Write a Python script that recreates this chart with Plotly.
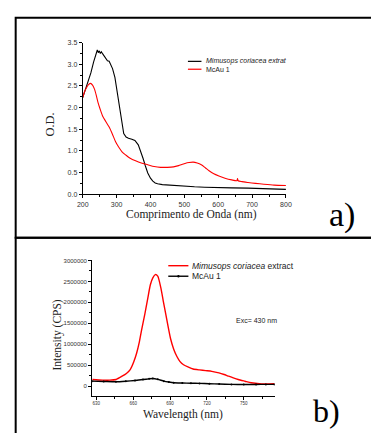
import plotly.graph_objects as go

# Panel a) UV-Vis absorbance
uv_wl_extract = [200, 208, 216, 224, 232, 238, 243, 246, 249, 252, 255, 259, 263, 268, 273, 278, 283, 288, 295, 302, 311, 321, 328, 335, 345, 354, 364, 371, 378, 385, 392, 400, 407, 414, 421, 435, 450, 470, 497, 530, 560, 592, 640, 688, 740, 800]
uv_od_extract = [2.23, 2.42, 2.58, 2.8, 3.05, 3.2, 3.33, 3.27, 3.31, 3.25, 3.29, 3.24, 3.2, 3.15, 3.08, 3.07, 3.0, 2.9, 2.7, 2.35, 1.82, 1.4, 1.32, 1.29, 1.27, 1.24, 1.14, 1.0, 0.83, 0.65, 0.49, 0.37, 0.3, 0.26, 0.24, 0.22, 0.21, 0.2, 0.18, 0.17, 0.16, 0.15, 0.145, 0.14, 0.13, 0.11]

uv_wl_mcau = [200, 205, 211, 217, 223, 229, 235, 240, 245, 252, 259, 268, 278, 288, 297, 306, 316, 328, 340, 356, 373, 392, 411, 430, 450, 468, 483, 494, 502, 514, 526, 538, 550, 562, 573, 587, 602, 620, 640, 655, 657, 659, 670, 688, 710, 735, 765, 800]
uv_od_mcau = [2.23, 2.36, 2.46, 2.53, 2.56, 2.52, 2.42, 2.28, 2.12, 1.95, 1.8, 1.68, 1.55, 1.38, 1.21, 1.09, 0.98, 0.9, 0.83, 0.77, 0.72, 0.68, 0.64, 0.62, 0.62, 0.63, 0.66, 0.69, 0.71, 0.73, 0.74, 0.72, 0.68, 0.61, 0.54, 0.47, 0.42, 0.37, 0.33, 0.31, 0.36, 0.31, 0.29, 0.27, 0.25, 0.23, 0.21, 0.2]

# Panel b) fluorescence emission
fl_wl_extract = [626.8, 635, 641, 646, 651, 654.5, 657.6, 660.5, 662.8, 665, 666.8, 669.5, 672, 674, 676, 678, 680, 682.5, 684.5, 686.5, 690.4, 693, 695.6, 698, 701, 705, 708.8, 714, 719, 724, 729.8, 734, 737.7, 741.5, 745.5, 751, 756, 761, 766.5, 770.5, 775]
fl_int_extract = [156000, 141000, 140000, 156000, 235000, 300000, 392000, 580000, 783000, 1050000, 1332000, 1720000, 2115000, 2420000, 2585000, 2663000, 2624000, 2350000, 2030000, 1723000, 1136000, 880000, 705000, 590000, 509000, 450000, 407000, 385000, 368000, 350000, 313000, 275000, 235000, 195000, 157000, 115000, 78000, 60000, 47000, 50000, 55000]

fl_wl_mcau = [626.8, 636, 646, 654, 661.5, 668, 673, 676, 680, 685, 689, 693, 700, 707, 714, 722, 730, 740, 750, 760, 768, 775]
fl_int_mcau = [117000, 110000, 102000, 115000, 133000, 155000, 172000, 180000, 160000, 117000, 95000, 78000, 72000, 68000, 63000, 55000, 48000, 39000, 38000, 38000, 39000, 39000]

W, H = 371, 433
def px(x):
    return x / W
def py(y):
    return 1 - y / H

fig = go.Figure()

fig.add_trace(go.Scatter(x=uv_wl_extract, y=uv_od_extract, mode="lines",
                         line=dict(color="black", width=1.1), xaxis="x", yaxis="y",
                         showlegend=False))
fig.add_trace(go.Scatter(x=uv_wl_mcau, y=uv_od_mcau, mode="lines",
                         line=dict(color="#ff0000", width=1.1, shape="spline", smoothing=0.6),
                         xaxis="x", yaxis="y", showlegend=False))
fig.add_trace(go.Scatter(x=fl_wl_extract, y=fl_int_extract, mode="lines",
                         line=dict(color="#ff0000", width=1.4, shape="spline", smoothing=0.6),
                         xaxis="x2", yaxis="y2", showlegend=False))
fig.add_trace(go.Scatter(x=fl_wl_mcau, y=fl_int_mcau, mode="lines+markers",
                         line=dict(color="black", width=1.4, shape="spline", smoothing=0.6),
                         marker=dict(color="black", size=2),
                         xaxis="x2", yaxis="y2", showlegend=False))

def tf(size):
    return dict(family="Arial, Liberation Sans, sans-serif", size=size, color="#333333")

axis_common = dict(showgrid=False, zeroline=False, showline=True, linecolor="black",
                   linewidth=1, ticks="outside", ticklen=3, tickwidth=1, tickcolor="black",
                   mirror=False)

fig.update_layout(
    width=W, height=H,
    margin=dict(l=0, r=0, t=0, b=0),
    paper_bgcolor="white", plot_bgcolor="white",
    xaxis=dict(domain=[px(79.3), px(289.3)], range=[200, 800], anchor="y",
               tickvals=[200, 300, 400, 500, 600, 700, 800], tickfont=tf(7),
               minor=dict(dtick=50, tick0=200, ticks="outside", ticklen=2, tickcolor="black"),
               **axis_common),
    yaxis=dict(domain=[py(193.3), py(39.3)], range=[0, 3.5], anchor="x",
               dtick=0.5, tickformat=".1f", tickfont=tf(7),
               minor=dict(dtick=0.25, tick0=0, ticks="outside", ticklen=2, tickcolor="black"),
               **axis_common),
    xaxis2=dict(domain=[px(89), px(277.7)], range=[626.6, 775.2], anchor="y2",
                tickvals=[630, 660, 690, 720, 750], tickfont=tf(4.5),
                minor=dict(dtick=15, tick0=630, ticks="outside", ticklen=2, tickcolor="black"),
                **axis_common),
    yaxis2=dict(domain=[py(398.3), py(260.7)], range=[-235000, 3000000], anchor="x2",
                tickvals=[0, 500000, 1000000, 1500000, 2000000, 2500000, 3000000],
                tickformat="d", tickfont=tf(6),
                minor=dict(dtick=250000, tick0=0, ticks="outside", ticklen=2, tickcolor="black"),
                **axis_common),
)

serif = "Liberation Serif, Times New Roman, serif"
sans = "Liberation Sans, Arial, sans-serif"

shapes = [
    # panel frames
    dict(type="rect", xref="paper", yref="paper", x0=px(10), x1=px(390), y0=py(237.7), y1=py(14),
         line=dict(color="black", width=2)),
    dict(type="rect", xref="paper", yref="paper", x0=px(10), x1=px(390), y0=py(450), y1=py(237.7),
         line=dict(color="black", width=2)),
    # legend samples panel a
    dict(type="line", xref="paper", yref="paper", x0=px(188), x1=px(202), y0=py(58.3), y1=py(58.3),
         line=dict(color="black", width=1.2)),
    dict(type="line", xref="paper", yref="paper", x0=px(188), x1=px(202), y0=py(66.3), y1=py(66.3),
         line=dict(color="#ff0000", width=1.2)),
    # legend samples panel b
    dict(type="line", xref="paper", yref="paper", x0=px(167.7), x1=px(188.5), y0=py(266), y1=py(266),
         line=dict(color="#ff0000", width=1.4)),
    dict(type="line", xref="paper", yref="paper", x0=px(167.7), x1=px(188.5), y0=py(276.7), y1=py(276.7),
         line=dict(color="black", width=1.4)),
    dict(type="circle", xref="paper", yref="paper", x0=px(177), x1=px(179.4), y0=py(277.9), y1=py(275.5),
         fillcolor="black", line=dict(color="black", width=0)),
]
fig.update_layout(shapes=shapes)

annotations = [
    dict(text="Comprimento de Onda (nm)", x=px(192), y=py(213.5), font=dict(family=serif, size=11.5, color="#222"),
         borderpad=0),
    dict(text="O.D.", x=px(45), y=py(123), textangle=-90, font=dict(family=serif, size=12.5, color="#222")),
    dict(text="a)", x=px(347), y=py(214), font=dict(family=serif, size=34, color="black")),
    dict(text="<i>Mimusops coriacea extrat</i>", x=px(205), y=py(58.3), xanchor="left",
         font=dict(family=sans, size=7, color="#222")),
    dict(text="McAu 1", x=px(205), y=py(66.3), xanchor="left", font=dict(family=sans, size=7, color="#222")),
    dict(text="Intensity (CPS)", x=px(53), y=py(336.7), textangle=-90, font=dict(family=serif, size=11.5, color="#222")),
    dict(text="Wavelength (nm)", x=px(183), y=py(417), font=dict(family=serif, size=11.5, color="#222")),
    dict(text="Exc= 430 nm", x=px(259), y=py(321.7), font=dict(family=sans, size=7, color="#222")),
    dict(text="b)", x=px(331), y=py(414), font=dict(family=serif, size=32, color="black")),
    dict(text="<i>Mimusops coriacea</i> extract", x=px(190), y=py(266), xanchor="left",
         font=dict(family=sans, size=8.5, color="#222")),
    dict(text="McAu 1", x=px(190), y=py(276.7), xanchor="left", font=dict(family=sans, size=8.5, color="#222")),
]
for a in annotations:
    a.setdefault("xanchor", "center")
    a.update(xref="paper", yref="paper", showarrow=False, yanchor="middle")
fig.update_layout(annotations=annotations)

fig.write_html("out.html")
